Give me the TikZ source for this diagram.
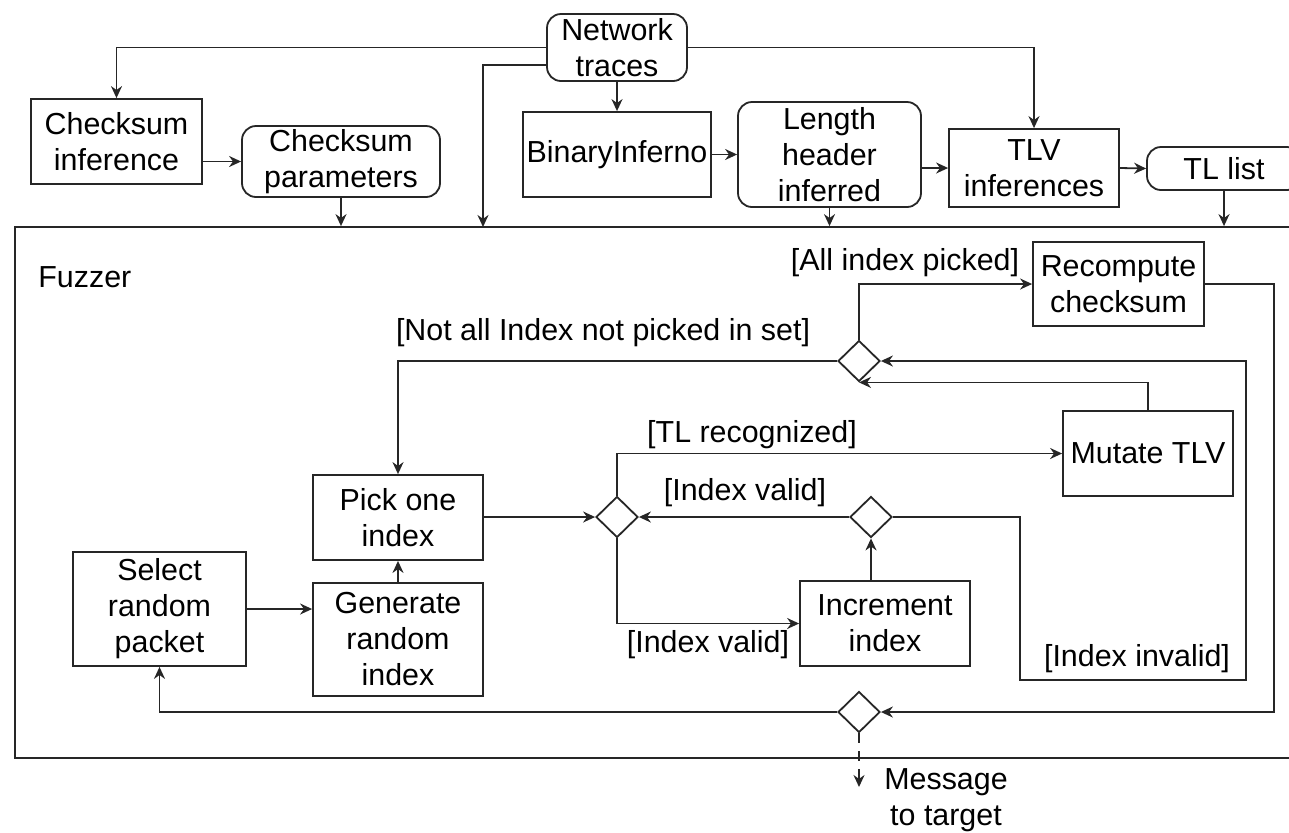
\documentclass[tikz,border=0pt]{standalone}
\usepackage{fontspec}
\setmainfont{Liberation Sans}
\usetikzlibrary{shapes.geometric, arrows.meta, positioning, calc}

\begin{document}
\begin{tikzpicture}[
		x=0.5pt, y=-0.5pt,
		every node/.style={font=\fontsize{15.2}{18}\selectfont},
		box/.style={draw=black!85, line width=0.9pt, align=center, inner sep=0pt},
		rbox/.style={box, rounded corners=7pt},
		decision/.style={draw=black!85, line width=0.9pt, diamond, minimum width=21pt, minimum height=20.5pt, inner sep=0pt},
		arrow/.style={line width=0.9pt, draw=black!85, -{Stealth[length=6pt, width=5.5pt]}},
		lbl/.style={inner sep=0pt, align=center}
		]
		\useasboundingbox (0,0) rectangle (1289,832);
		\clip (0,0) rectangle (1289,832);
		
		% Nodos superiores
		\node[rbox, minimum width=70pt, minimum height=33.5pt] (net) at (617,47.5) {Network\\traces};
		\node[box, minimum width=85.5pt, minimum height=42.5pt] (csinf) at (116.5,141.5) {Checksum\\inference};
		\node[rbox, minimum width=99pt, minimum height=35.5pt] (csparam) at (341,161.5) {Checksum\\parameters};
		\node[box, minimum width=94pt, minimum height=42.5pt] (binf) at (617,154.5) {BinaryInferno};
		\node[rbox, minimum width=91.5pt, minimum height=52.5pt] (lenh) at (829.5,154.5) {Length\\header\\inferred};
		\node[box, minimum width=85pt, minimum height=39pt] (tlv) at (1034,168) {TLV\\inferences};
		\node[rbox, minimum width=77pt, minimum height=21.5pt] (tll) at (1224,168.5) {TL list};
		
		% Fuzzer
		\node[draw=black!85, line width=0.9pt, minimum width=647.5pt, minimum height=265.5pt, inner sep=0pt] (fuzzer) at (662.5,492.5) {};
		\node[lbl, anchor=west] (fuzzlbl) at (38,277) {Fuzzer};
		
		\node[box, minimum width=86.5pt, minimum height=57pt] (sel) at (159.5,609) {Select\\random\\packet};
		\node[box, minimum width=85pt, minimum height=42.5pt] (pick) at (398,517.5) {Pick one\\index};
		\node[box, minimum width=85pt, minimum height=56.5pt, below=10.5pt of pick] (gen) {Generate\\random\\index};
		\node[decision] (tlchk) at (617,517) {};
		\node[decision] (idxchk) at (871,517) {};
		\node[box, minimum width=85pt, minimum height=42.5pt] (inc) at (885,623.5) {Increment\\index};
		\node[box, minimum width=85pt, minimum height=42.5pt] (mut) at (1148,453.5) {Mutate TLV};
		\node[decision] (alldone) at (859,361) {};
		\node[box, minimum width=85.5pt, minimum height=42pt] (rec) at (1118.5,284) {Recompute\\checksum};
		\node[decision] (out) at (859,712) {};
		
		% Etiquetas
		\node[lbl] (notall) at (603,333) {[Not all Index not picked in set]};
		\node[lbl] (allpick) at (905,263) {[All index picked]};
		\node[lbl] (tlrec) at (752,435) {[TL recognized]};
		\node[lbl] (validup) at (745,493) {[Index valid]};
		\node[lbl] (validlo) at (708,645) {[Index valid]};
		\node[lbl] (invalid) at (1137,659) {[Index invalid]};
		\node[lbl] (msg) at (946,800) {Message\\to target};
		
		\coordinate (feed) at (483,227);
		\coordinate (invA) at (1020,680);
		\coordinate (invB) at (1246,680);
		\coordinate (recback) at (1274,712);
		\coordinate (msgend) at (859,787);
		
		% Flechas superiores
		\draw[arrow] (net.west) -| (csinf.north);
		\draw[arrow] ($(net.west)+(0,17.5)$) -| (feed);
		\draw[arrow] (net.south) -- (binf.north);
		\draw[arrow] (net.east) -| (tlv.north);
		\draw[arrow] (csinf.east |- csparam) -- (csparam.west);
		\draw[arrow] (binf.east) -- (lenh.west);
		\draw[arrow] (lenh.east |- tlv) -- (tlv.west);
		\draw[arrow] (tlv.east) -- (tll.west);
		\draw[arrow] (csparam.south) -- (csparam.south |- fuzzer.north);
		\draw[arrow] (lenh.south) -- (lenh.south |- fuzzer.north);
		\draw[arrow] (tll.south) -- (tll.south |- fuzzer.north);
		
		% Flechas del fuzzer
		\draw[arrow] (sel.east) -- (sel.east -| gen.west);
		\draw[arrow] (gen.north) -- (pick.south);
		\draw[arrow] (pick.east |- tlchk) -- (tlchk.west);
		\draw[arrow] (tlchk.north) |- (mut.west);
		\draw[arrow] (tlchk.south) |- (inc.west);
		\draw[arrow] (idxchk |- inc.north) -- (idxchk.south);
		\draw[arrow] (idxchk.west) -- (tlchk.east);
		\draw[arrow] (idxchk.east) -| (invA) -- (invB) |- (alldone.east);
		\draw[arrow] (mut.north) |- (alldone.south);
		\draw[arrow] (alldone.west) -| (pick.north);
		\draw[arrow] (alldone.north) |- (rec.west);
		\draw[arrow] (rec.east) -| (recback) -- (out.east);
		\draw[arrow] (out.west) -| (sel.south);
		\draw[arrow, dash pattern=on 5pt off 4pt] (out.south) -- (msgend);
	\end{tikzpicture}
\end{document}
